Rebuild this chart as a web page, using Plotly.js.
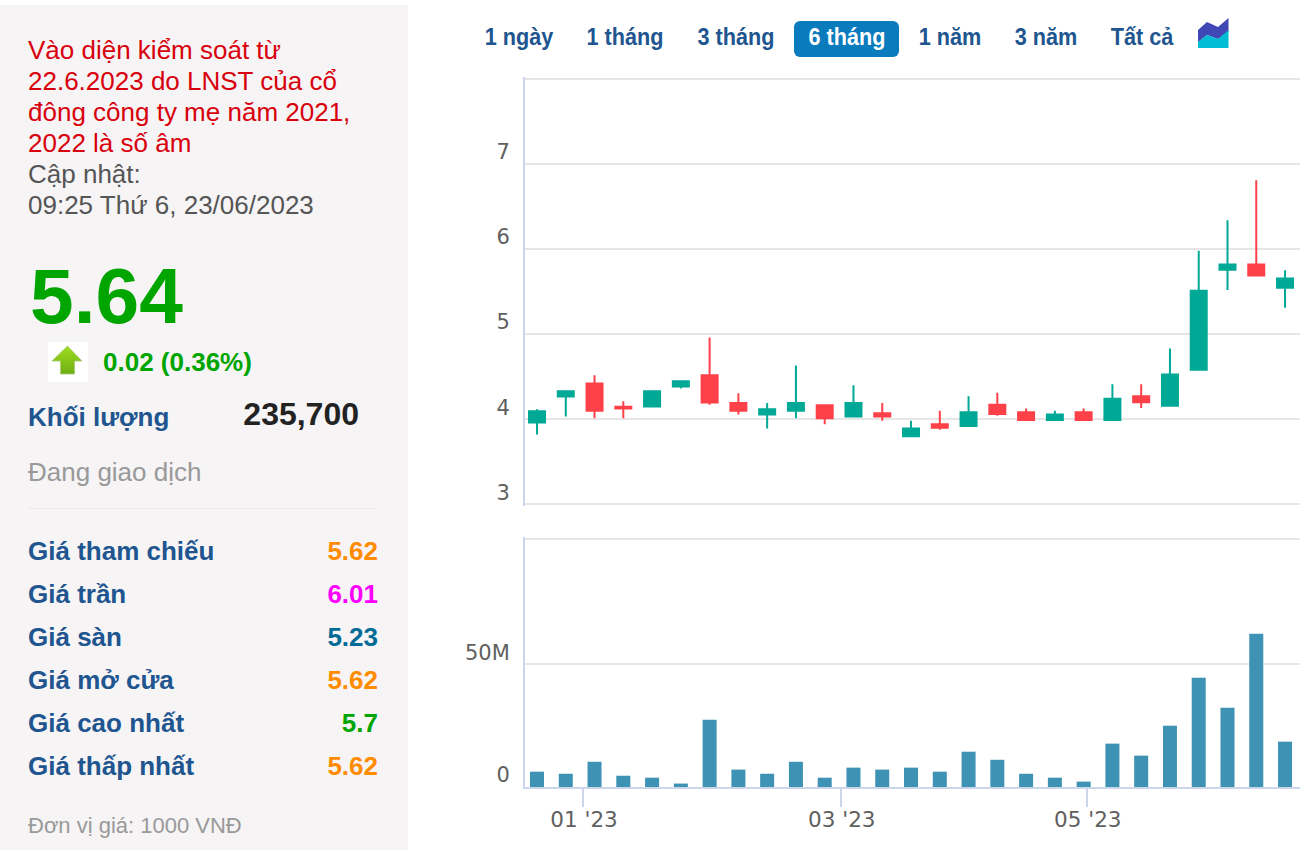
<!DOCTYPE html>
<html>
<head>
<meta charset="utf-8">
<script src="https://cdn.plot.ly/plotly-3.0.1.min.js"></script>
<style>
html,body{margin:0;padding:0;background:#fff;width:1310px;height:850px;overflow:hidden;font-family:"Liberation Sans",Arial,sans-serif}
#chart{position:absolute;left:0;top:0;width:1310px;height:850px}
#panel{position:absolute;left:0;top:5px;width:408px;height:845px;background:#f6f4f5}
.t{position:absolute;white-space:nowrap;line-height:1}
.btn{position:absolute;top:21px;height:36px;line-height:33px;font-family:"Liberation Sans",Arial,sans-serif;font-weight:bold;font-size:23px;color:#20558f;white-space:nowrap;text-align:center;transform:scaleX(.94);transform-origin:center}
#active{position:absolute;left:794px;top:21px;width:105px;height:36px;background:#0a7cbd;border-radius:6px}
</style>
</head>
<body>
<div id="chart"></div>
<div id="panel"></div>
<div id="active"></div>
<div id="texts"></div>
<svg style="position:absolute;left:48px;top:342px" width="40" height="40" viewBox="0 0 40 40">
  <rect width="40" height="40" fill="#ffffff"/>
  <defs><linearGradient id="g" x1="0" y1="0" x2="0" y2="1"><stop offset="0" stop-color="#9fdc1e"/><stop offset="1" stop-color="#6fae14"/></linearGradient></defs>
  <path d="M19.5 4 L34 19 L26.5 19 L26.5 32 L12.5 32 L12.5 19 L4 19 Z" fill="url(#g)" stroke="#a8c878" stroke-width="0.8"/>
</svg>
<svg style="position:absolute;left:1198px;top:18px" width="31" height="31" viewBox="0 0 31 31">
  <path d="M0 12 L9 4 L20 9 L30.5 0 L30.5 14 L20 21 L9 17 L0 24 Z" fill="#3f48b5"/>
  <path d="M0 24 L9 17 L20 21 L30.5 12 L30.5 30 L0 30 Z" fill="#00bcd4"/>
</svg>
<script>
// Weekly candles (ordinal position on the axis)
var weekIndex = [0,1,2,3,4,5,6,7,8,9,10,11,12,13,14,15,16,17,18,19,20,21,22,23,24,25,26];
var openPrice  = [3.96,4.266,4.42,4.145,4.148,4.383,4.516,4.19,4.055,4.10,4.164,4.03,4.07,3.80,3.94,3.92,4.17,4.08,3.99,4.08,3.99,4.27,4.157,4.58,5.757,5.82,5.545];
var highPrice  = [4.117,4.328,4.516,4.21,4.328,4.445,4.96,4.305,4.19,4.63,4.164,4.40,4.19,3.98,4.10,4.27,4.31,4.125,4.10,4.125,4.41,4.41,4.83,5.98,6.34,6.81,5.75];
var lowPrice   = [3.82,4.03,4.01,4.01,4.148,4.36,4.17,4.055,3.89,4.01,3.94,4.03,3.98,3.80,3.875,3.92,4.04,3.99,3.99,3.99,3.99,4.13,4.157,4.58,5.52,5.69,5.31];
var closePrice = [4.094,4.328,4.10,4.125,4.328,4.445,4.195,4.10,4.117,4.19,4.01,4.19,4.03,3.89,3.90,4.08,4.06,3.99,4.055,3.99,4.24,4.20,4.525,5.51,5.82,5.69,5.655];
var volumeM    = [6.25,5.4,10.3,4.6,3.8,1.4,27.4,7.1,5.4,10.3,3.8,7.9,7.1,7.9,6.25,14.4,11.1,5.4,3.8,2.2,17.7,12.8,25,44.6,32.3,62.5,18.5];
var monthTickPos = [1.6,10.56,19.11];
var monthTickText = ["01 '23","03 '23","05 '23"];
var priceTicks = [3,4,5,6,7,8];
var priceTickText = ['3','4','5','6','7',''];
var volumeTicks = [0,50,101.2];
var volumeTickText = ['0','50M',''];
var rangeButtons = ['1 ngày','1 tháng','3 tháng','6 tháng','1 năm','3 năm','Tất cả'];
var rangeButtonCenters = [519,625,736,847,950,1046,1142];
var noticeLines = ['Vào diện kiểm soát từ','22.6.2023 do LNST của cổ','đông công ty mẹ năm 2021,','2022 là số âm'];
var updateLines = ['Cập nhật:','09:25 Thứ 6, 23/06/2023'];
var statLabels = ['Giá tham chiếu','Giá trần','Giá sàn','Giá mở cửa','Giá cao nhất','Giá thấp nhất'];
var statValues = ['5.62','6.01','5.23','5.62','5.7','5.62'];
var statColors = ['#ff8c00','#ff00ff','#006b96','#ff8c00','#00a500','#ff8c00'];

var W=1310,H=850;
function py(p){return 1-p/H;}
var traces=[
 {type:'candlestick',x:weekIndex,open:openPrice,high:highPrice,low:lowPrice,close:closePrice,xaxis:'x',yaxis:'y',
  increasing:{line:{color:'#00a896',width:2},fillcolor:'#00a896'},
  decreasing:{line:{color:'#fe4049',width:2},fillcolor:'#fe4049'},showlegend:false},
 {type:'bar',x:weekIndex,y:volumeM,xaxis:'x',yaxis:'y2',width:0.487,marker:{color:'#3e92b4',line:{width:0}},showlegend:false}
];
var layout={
 width:W,height:H,margin:{l:0,r:0,t:0,b:0},paper_bgcolor:'#fff',plot_bgcolor:'#fff',
 boxgap:0.444,boxgroupgap:0,
 font:{family:'"DejaVu Sans",sans-serif',size:20,color:'#606060'},
 xaxis:{domain:[525/W,1300/W],range:[-0.417,26.52],anchor:'y2',tickmode:'array',tickvals:monthTickPos,ticktext:monthTickText,
   ticks:'outside',ticklen:18,tickwidth:2,tickcolor:'#ccd6eb',showgrid:false,zeroline:false,showline:true,linecolor:'#ccd6eb',linewidth:2,
   rangeslider:{visible:false},ticklabelstandoff:-6,ticklabelshift:1,tickfont:{size:21.5,color:'#606060'},fixedrange:true},
 yaxis:{domain:[py(505.9),py(77.3)],range:[2.98,8.02],anchor:'x',tickmode:'array',tickvals:priceTicks,ticktext:priceTickText,
   gridcolor:'#e6e6e6',gridwidth:2,zeroline:false,showline:true,linecolor:'#ccd6eb',linewidth:2,ticks:'',ticklabelshift:-12,
   ticklabelstandoff:9,tickfont:{size:21,color:'#606060'},fixedrange:true},
 yaxis2:{domain:[py(787),py(537)],range:[0,102],anchor:'x',tickmode:'array',tickvals:volumeTicks,ticktext:volumeTickText,
   gridcolor:'#e6e6e6',gridwidth:2,zeroline:false,showline:true,linecolor:'#ccd6eb',linewidth:2,ticks:'',ticklabelshift:-12,
   ticklabelstandoff:9,tickfont:{size:21,color:'#606060'},fixedrange:true}
};
Plotly.newPlot('chart',traces,layout,{displayModeBar:false,staticPlot:true});

var box=document.getElementById('texts');
function add(txt,left,top,size,color,bold,right){
 var d=document.createElement('div');d.className='t';d.textContent=txt;
 d.style.top=top+'px';d.style.fontSize=size+'px';d.style.color=color;
 d.style.fontWeight=bold?'bold':'normal';
 if(right!==undefined){d.style.right=(W-right)+'px';}else{d.style.left=left+'px';}
 box.appendChild(d);
}
noticeLines.forEach(function(s,i){add(s,28,37+31*i,26,'#d8000c',false);});
updateLines.forEach(function(s,i){add(s,28,161+31*i,26,'#555555',false);});
add('5.64',30,257,78.5,'#00a500',true);
add('0.02 (0.36%)',103,349,26,'#00a500',true);
add('Khối lượng',28,404,26,'#20558f',true);
add('235,700',0,398,32,'#222222',true,359);
add('Đang giao dịch',28,459,26,'#999999',false);
var hr=document.createElement('div');hr.style.cssText='position:absolute;left:28px;top:508px;width:350px;height:1px;background:#ececec';box.appendChild(hr);
statLabels.forEach(function(s,i){
 add(s,28,538+43*i,26,'#20558f',true);
 add(statValues[i],0,538+43*i,26,statColors[i],true,378);
});
add('Đơn vị giá: 1000 VNĐ',28,815,22,'#999999',false);
rangeButtons.forEach(function(s,i){
 var d=document.createElement('div');d.className='btn';d.textContent=s;
 d.style.left=(rangeButtonCenters[i]-60)+'px';d.style.width='120px';
 if(s==='6 tháng')d.style.color='#ffffff';
 box.appendChild(d);
});
</script>
</body>
</html>
